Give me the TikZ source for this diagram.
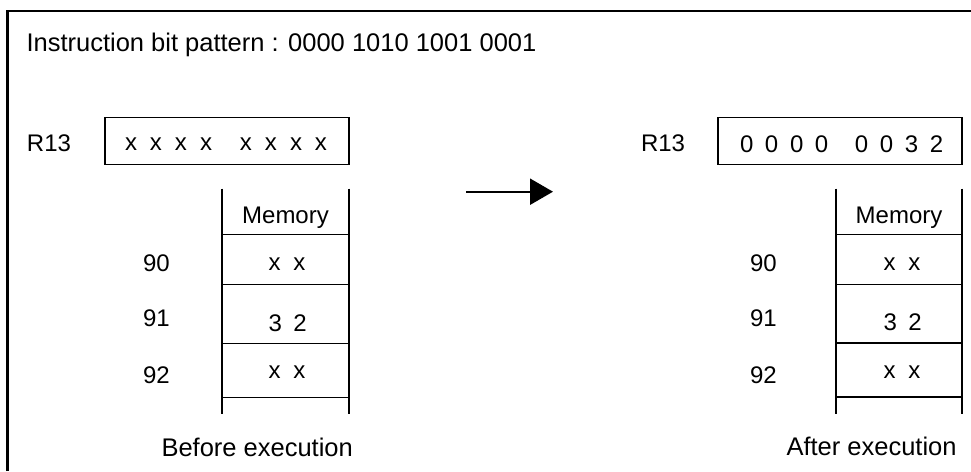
\documentclass[tikz,border=0pt]{standalone}
\usepackage{fontspec}
\setmainfont{Liberation Sans}
\usetikzlibrary{arrows.meta}
\newcommand{\gp}[2]{\makebox[#1][l]{#2}}
\begin{document}
\begin{tikzpicture}[x=1pt,y=-1pt,
  txt/.style={inner sep=0pt,outer sep=0pt,font=\fontsize{24}{28}\selectfont},
  bigtxt/.style={inner sep=0pt,outer sep=0pt,font=\fontsize{25.5}{30}\selectfont},
  regbox/.style={draw,line width=1.3pt,minimum width=244pt,minimum height=47pt,inner sep=0pt},
  memline/.style={line width=1.3pt},
  frame/.style={line width=2.5pt}]
\useasboundingbox (0,0) rectangle (971,471);
% frame
\draw[frame] (7.5,471) -- (7.5,11) -- (971,11);
% title
\node[bigtxt,anchor=base west] (title) at (26.5,51) {Instruction bit pattern : 0000 1010 1001 0001};
% ---- left (before)
\node[txt,anchor=base west] (rL) at (27,151) {R13};
\node[regbox] (boxL) at (227,141) {};
\node[txt,anchor=base west] (valL) at (125,150) {\gp{25pt}{x}\gp{25pt}{x}\gp{25pt}{x}\gp{40pt}{x}\gp{25pt}{x}\gp{25pt}{x}\gp{25pt}{x}x};
\draw[memline] (222,188.5) -- (222,413.5);
\draw[memline] (349,188.5) -- (349,413.5);
\foreach \yy in {234.5,284.5,343.5,397.5} \draw[memline] (222,\yy) -- (349,\yy);
\node[txt,anchor=base] (memL) at (285.5,223) {Memory};
\node[txt,anchor=base west] (a90L) at (143,271) {90};
\node[txt,anchor=base west] (a91L) at (143,326) {91};
\node[txt,anchor=base west] (a92L) at (143,383) {92};
\node[txt,anchor=base west] (c90L) at (268.5,270) {\gp{25pt}{x}x};
\node[txt,anchor=base west] (c91L) at (268.5,331) {\gp{25pt}{3}2};
\node[txt,anchor=base west] (c92L) at (268.5,378) {\gp{25pt}{x}x};
\node[bigtxt,anchor=base west] (capL) at (161.5,456) {Before execution};
% ---- arrow
\coordinate (arrS) at (466,191.7);
\coordinate (arrE) at (553,191.7);
\draw[line width=2.2pt,-{Triangle[length=23pt,width=26pt]}] (arrS) -- (arrE);
% ---- right (after)
\node[txt,anchor=base west] (rR) at (641,151.5) {R13};
\node[regbox] (boxR) at (840,141) {};
\node[txt,anchor=base west] (valR) at (740,152) {\gp{25pt}{0}\gp{25pt}{0}\gp{25pt}{0}\gp{40pt}{0}\gp{25pt}{0}\gp{25pt}{0}\gp{25pt}{3}2};
\draw[memline] (836,188.5) -- (836,413.5);
\draw[memline] (962,188.5) -- (962,413.5);
\foreach \yy in {234.5,284.5,343,397} \draw[memline] (836,\yy) -- (962,\yy);
\node[txt,anchor=base] (memR) at (899,223.3) {Memory};
\node[txt,anchor=base west] (a90R) at (750,271.5) {90};
\node[txt,anchor=base west] (a91R) at (750,326.7) {91};
\node[txt,anchor=base west] (a92R) at (750,383.3) {92};
\node[txt,anchor=base west] (c90R) at (883.5,270) {\gp{25pt}{x}x};
\node[txt,anchor=base west] (c91R) at (883.5,330) {\gp{25pt}{3}2};
\node[txt,anchor=base west] (c92R) at (883.5,378) {\gp{25pt}{x}x};
\node[bigtxt,anchor=base west] (capR) at (786.5,455) {After execution};
\end{tikzpicture}
\end{document}
